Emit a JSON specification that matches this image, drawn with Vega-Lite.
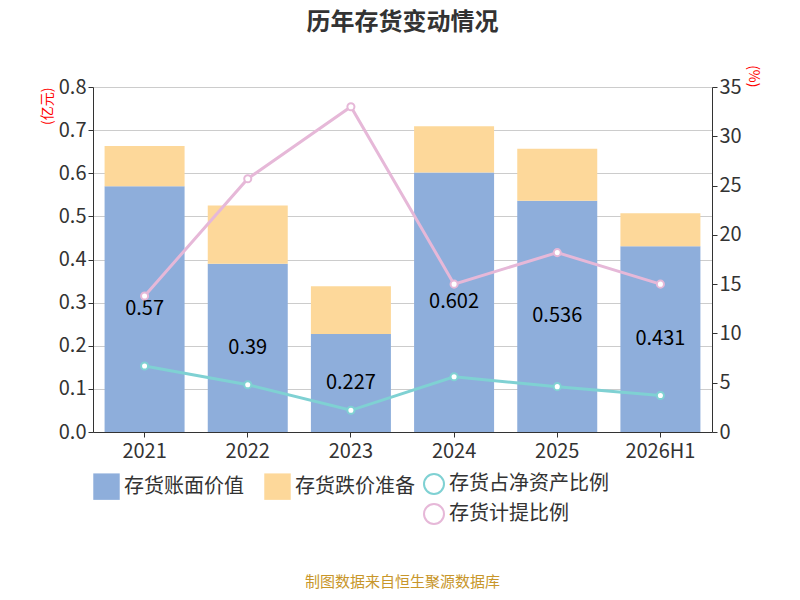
{
"$schema":"https://vega.github.io/schema/vega-lite/v6.json",
"width":800,"height":600,
"autosize":{"type":"fit","contains":"padding"},
"padding":{"left":40,"right":40,"top":10,"bottom":10},
"title":{"text":"历年存货变动情况","fontSize":24,"font":"Noto Sans CJK SC","fontWeight":"bold","color":"#333","offset":30},
"config":{"font":"Noto Sans CJK SC","view":{"stroke":null}},
"datasets":{
"bars":[
{"year":"2021","type":"存货账面价值","v":0.57,"o":1},{"year":"2021","type":"存货跌价准备","v":0.093,"o":2},
{"year":"2022","type":"存货账面价值","v":0.39,"o":1},{"year":"2022","type":"存货跌价准备","v":0.135,"o":2},
{"year":"2023","type":"存货账面价值","v":0.227,"o":1},{"year":"2023","type":"存货跌价准备","v":0.111,"o":2},
{"year":"2024","type":"存货账面价值","v":0.602,"o":1},{"year":"2024","type":"存货跌价准备","v":0.107,"o":2},
{"year":"2025","type":"存货账面价值","v":0.536,"o":1},{"year":"2025","type":"存货跌价准备","v":0.121,"o":2},
{"year":"2026H1","type":"存货账面价值","v":0.431,"o":1},{"year":"2026H1","type":"存货跌价准备","v":0.076,"o":2}],
"book":[{"year":"2021","v":0.57,"h":0.285},{"year":"2022","v":0.39,"h":0.195},{"year":"2023","v":0.227,"h":0.1135},{"year":"2024","v":0.602,"h":0.301},{"year":"2025","v":0.536,"h":0.268},{"year":"2026H1","v":0.431,"h":0.2155}],
"lines":[
{"year":"2021","s":"存货占净资产比例","p":6.7},{"year":"2022","s":"存货占净资产比例","p":4.8},{"year":"2023","s":"存货占净资产比例","p":2.2},{"year":"2024","s":"存货占净资产比例","p":5.6},{"year":"2025","s":"存货占净资产比例","p":4.6},{"year":"2026H1","s":"存货占净资产比例","p":3.7},
{"year":"2021","s":"存货计提比例","p":13.8},{"year":"2022","s":"存货计提比例","p":25.7},{"year":"2023","s":"存货计提比例","p":33.0},{"year":"2024","s":"存货计提比例","p":15.0},{"year":"2025","s":"存货计提比例","p":18.2},{"year":"2026H1","s":"存货计提比例","p":15.0}]
},
"layer":[
{"layer":[
{"data":{"name":"bars"},"mark":{"type":"bar","width":80},
"encoding":{"x":{"field":"year","type":"nominal","title":null,"axis":{"labelAngle":0,"labelFontSize":20,"labelColor":"#333","domainColor":"#333","tickColor":"#333","labelPadding":4}},
"y":{"field":"v","type":"quantitative","stack":"zero","scale":{"domain":[0,0.8]},
"title":"(亿元)","axis":{"titleColor":"red","titleFontSize":14,"titleAnchor":"end","titleFontWeight":"normal","tickCount":8,"labelFontSize":20,"labelColor":"#333","domainColor":"#333","tickColor":"#333","gridColor":"#ccc","format":".1f"}},
"order":{"field":"o"},
"color":{"field":"type","type":"nominal","scale":{"domain":["存货账面价值","存货跌价准备"],"range":["#8eaedb","#fdd89a"]},
"legend":{"orient":"bottom","title":null,"labelFontSize":20,"symbolType":"square","symbolSize":700,"symbolStrokeWidth":0,"labelColor":"#333","columnPadding":20,"offset":12}}}},
{"data":{"name":"book"},"mark":{"type":"text","fontSize":20,"color":"#000"},
"encoding":{"x":{"field":"year","type":"nominal"},"y":{"field":"h","type":"quantitative"},"text":{"field":"v"}}}]},
{"data":{"name":"lines"},"mark":{"type":"line","strokeWidth":3,"point":{"filled":false,"fill":"white","size":50,"strokeWidth":2}},
"encoding":{"x":{"field":"year","type":"nominal"},"y":{"field":"p","type":"quantitative","scale":{"domain":[0,35]},"title":"(%)",
"axis":{"orient":"right","titleColor":"red","titleFontSize":14,"titleAnchor":"end","titleFontWeight":"normal","tickCount":7,"labelFontSize":20,"labelColor":"#333","domainColor":"#333","tickColor":"#333","grid":false}},
"color":{"field":"s","type":"nominal","scale":{"domain":["存货占净资产比例","存货计提比例"],"range":["#7fd1d3","#e6b8d8"]},
"legend":{"orient":"bottom","title":null,"labelFontSize":20,"symbolType":"circle","symbolSize":400,"symbolFillColor":"white","symbolStrokeWidth":2,"labelColor":"#333","direction":"vertical"}}}},
{"data":{"values":[{"t":"制图数据来自恒生聚源数据库"}]},"mark":{"type":"text","fontSize":15,"color":"#c8962a","y":{"expr":"height+150"},"x":{"expr":"width/2"},"align":"center"},"encoding":{"text":{"field":"t"}}}
],
"resolve":{"scale":{"y":"independent","color":"independent"}}
}
